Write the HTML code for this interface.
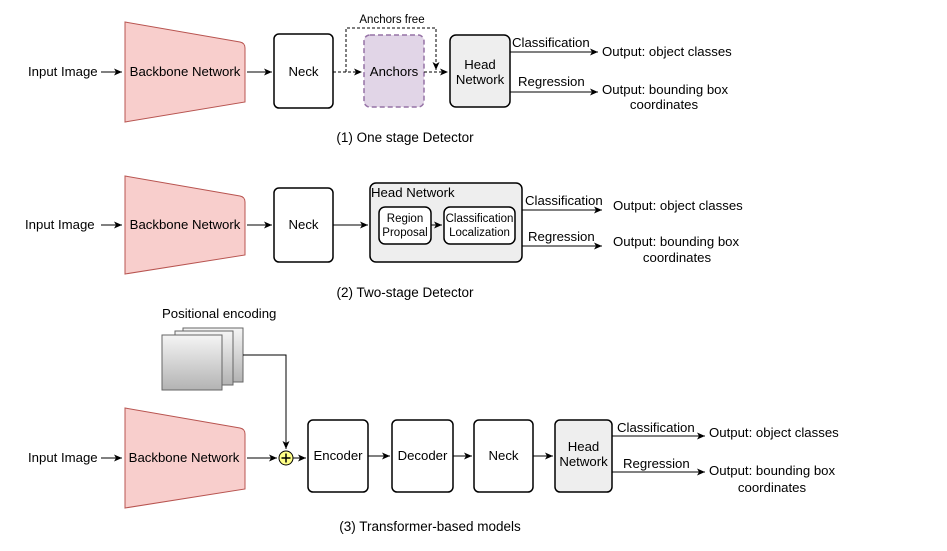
<!DOCTYPE html>
<html><head><meta charset="utf-8"><style>body{margin:0;background:#fff}svg{display:block}text{font-family:"Liberation Sans",sans-serif;font-size:13.2px;fill:#000}</style></head>
<body>
<svg width="947" height="551" viewBox="0 0 947 551" xmlns="http://www.w3.org/2000/svg">
<defs>
<marker id="a" markerWidth="9" markerHeight="9" refX="8" refY="4.5" orient="auto" markerUnits="userSpaceOnUse"><path d="M0,1 L8,4.5 L0,8 L2,4.5 z" fill="#000"/></marker>
<linearGradient id="g" x1="0" y1="0" x2="0" y2="1"><stop offset="0" stop-color="#f5f5f5"/><stop offset="1" stop-color="#b3b3b3"/></linearGradient>
</defs>
<g stroke="#000" stroke-width="1" fill="none">
<path d="M125,22 L240,42 Q245,43 245,48 L245,102 L125,122 Z" fill="#f8cecc" stroke="#b85450"/>
<rect x="274" y="34" width="59" height="74" rx="5" fill="#fff" stroke-width="1.5"/>
<rect x="364" y="35" width="60" height="72" rx="6" fill="#e1d5e7" stroke="#9673a6" stroke-dasharray="5,3" stroke-width="1.5"/>
<rect x="450" y="35" width="60" height="72" rx="6" fill="#eeeeee" stroke-width="1.5"/>
<line x1="101" y1="72" x2="122" y2="72" marker-end="url(#a)"/>
<line x1="247" y1="72" x2="272" y2="72" marker-end="url(#a)"/>
<line x1="333" y1="72" x2="362" y2="72" stroke-dasharray="3,2" marker-end="url(#a)"/>
<line x1="424" y1="72" x2="448" y2="72" stroke-dasharray="3,2" marker-end="url(#a)"/>
<path d="M346,72 L346,28 L436,28 L436,70" stroke-dasharray="3,2" marker-end="url(#a)"/>
<line x1="510" y1="52" x2="598" y2="52" marker-end="url(#a)"/>
<line x1="510" y1="92" x2="598" y2="92" marker-end="url(#a)"/>
<path d="M125,176 L240,196 Q245,197 245,202 L245,255 L125,274 Z" fill="#f8cecc" stroke="#b85450"/>
<rect x="274" y="188" width="59" height="74" rx="5" fill="#fff" stroke-width="1.5"/>
<rect x="370" y="183" width="152" height="79" rx="6" fill="#eeeeee" stroke-width="1.5"/>
<rect x="379" y="207" width="52" height="37" rx="6" fill="#fff" stroke-width="1.5"/>
<rect x="444" y="207" width="71" height="37" rx="6" fill="#fff" stroke-width="1.5"/>
<line x1="101" y1="225" x2="122" y2="225" marker-end="url(#a)"/>
<line x1="247" y1="225" x2="272" y2="225" marker-end="url(#a)"/>
<line x1="333" y1="225" x2="368" y2="225" marker-end="url(#a)"/>
<line x1="431" y1="225" x2="442" y2="225" marker-end="url(#a)"/>
<line x1="522" y1="210" x2="602" y2="210" marker-end="url(#a)"/>
<line x1="522" y1="246" x2="602" y2="246" marker-end="url(#a)"/>
<rect x="183" y="328" width="60" height="54" fill="url(#g)" stroke="#666"/>
<rect x="175" y="331" width="58" height="54" fill="url(#g)" stroke="#666"/>
<rect x="162" y="335" width="60" height="55" fill="url(#g)" stroke="#666"/>
<path d="M243,355 L286,355 L286,449" marker-end="url(#a)"/>
<path d="M125,408 L240,428 Q245,429 245,434 L245,489 L125,508 Z" fill="#f8cecc" stroke="#b85450"/>
<line x1="101" y1="458" x2="122" y2="458" marker-end="url(#a)"/>
<line x1="247" y1="458" x2="277" y2="458" marker-end="url(#a)"/>
<circle cx="286" cy="458" r="7" fill="#ffff88" stroke="#000"/>
<path d="M281.5,458 H290.5 M286,453.5 V462.5" stroke-width="1.5"/>
<line x1="293" y1="458" x2="306" y2="458" marker-end="url(#a)"/>
<rect x="308" y="420" width="60" height="72" rx="5" fill="#fff" stroke-width="1.5"/>
<rect x="392" y="420" width="61" height="72" rx="5" fill="#fff" stroke-width="1.5"/>
<rect x="474" y="420" width="59" height="72" rx="5" fill="#fff" stroke-width="1.5"/>
<rect x="555" y="420" width="57" height="72" rx="5" fill="#eeeeee" stroke-width="1.5"/>
<line x1="368" y1="456" x2="390" y2="456" marker-end="url(#a)"/>
<line x1="453" y1="456" x2="472" y2="456" marker-end="url(#a)"/>
<line x1="533" y1="456" x2="553" y2="456" marker-end="url(#a)"/>
<line x1="612" y1="436" x2="705" y2="436" marker-end="url(#a)"/>
<line x1="612" y1="472" x2="705" y2="472" marker-end="url(#a)"/>
</g>
<text x="28" y="76">Input Image</text>
<text x="185" y="76" text-anchor="middle">Backbone Network</text>
<text x="303.5" y="76" text-anchor="middle">Neck</text>
<text x="394" y="76" text-anchor="middle">Anchors</text>
<text x="480" y="69" text-anchor="middle">Head</text>
<text x="480" y="84" text-anchor="middle">Network</text>
<text x="392" y="23" text-anchor="middle" style="font-size:11.5px">Anchors free</text>
<text x="512" y="47">Classification</text>
<text x="518" y="86">Regression</text>
<text x="602" y="56">Output: object classes</text>
<text x="602" y="94">Output: bounding box</text>
<text x="664" y="109" text-anchor="middle">coordinates</text>
<text x="405" y="142" text-anchor="middle" style="font-size:13.5px">(1) One stage Detector</text>
<text x="25" y="229">Input Image</text>
<text x="185" y="229" text-anchor="middle">Backbone Network</text>
<text x="303.5" y="229" text-anchor="middle">Neck</text>
<text x="371" y="197">Head Network</text>
<text x="405" y="222" text-anchor="middle" style="font-size:11.5px">Region</text>
<text x="405" y="236" text-anchor="middle" style="font-size:11.5px">Proposal</text>
<text x="479.5" y="222" text-anchor="middle" style="font-size:11.5px">Classification</text>
<text x="479.5" y="236" text-anchor="middle" style="font-size:11.5px">Localization</text>
<text x="525" y="205">Classification</text>
<text x="528" y="241">Regression</text>
<text x="613" y="210">Output: object classes</text>
<text x="613" y="246">Output: bounding box</text>
<text x="677" y="262" text-anchor="middle">coordinates</text>
<text x="405" y="297" text-anchor="middle" style="font-size:13.5px">(2) Two-stage Detector</text>
<text x="162" y="318">Positional encoding</text>
<text x="28" y="462">Input Image</text>
<text x="184" y="462" text-anchor="middle">Backbone Network</text>
<text x="338" y="460" text-anchor="middle">Encoder</text>
<text x="422.5" y="460" text-anchor="middle">Decoder</text>
<text x="503.5" y="460" text-anchor="middle">Neck</text>
<text x="583.5" y="451" text-anchor="middle">Head</text>
<text x="583.5" y="466" text-anchor="middle">Network</text>
<text x="617" y="432">Classification</text>
<text x="623" y="468">Regression</text>
<text x="709" y="437">Output: object classes</text>
<text x="709" y="475">Output: bounding box</text>
<text x="772" y="492" text-anchor="middle">coordinates</text>
<text x="430" y="531" text-anchor="middle" style="font-size:13.5px">(3) Transformer-based models</text>
</svg>
</body></html>
